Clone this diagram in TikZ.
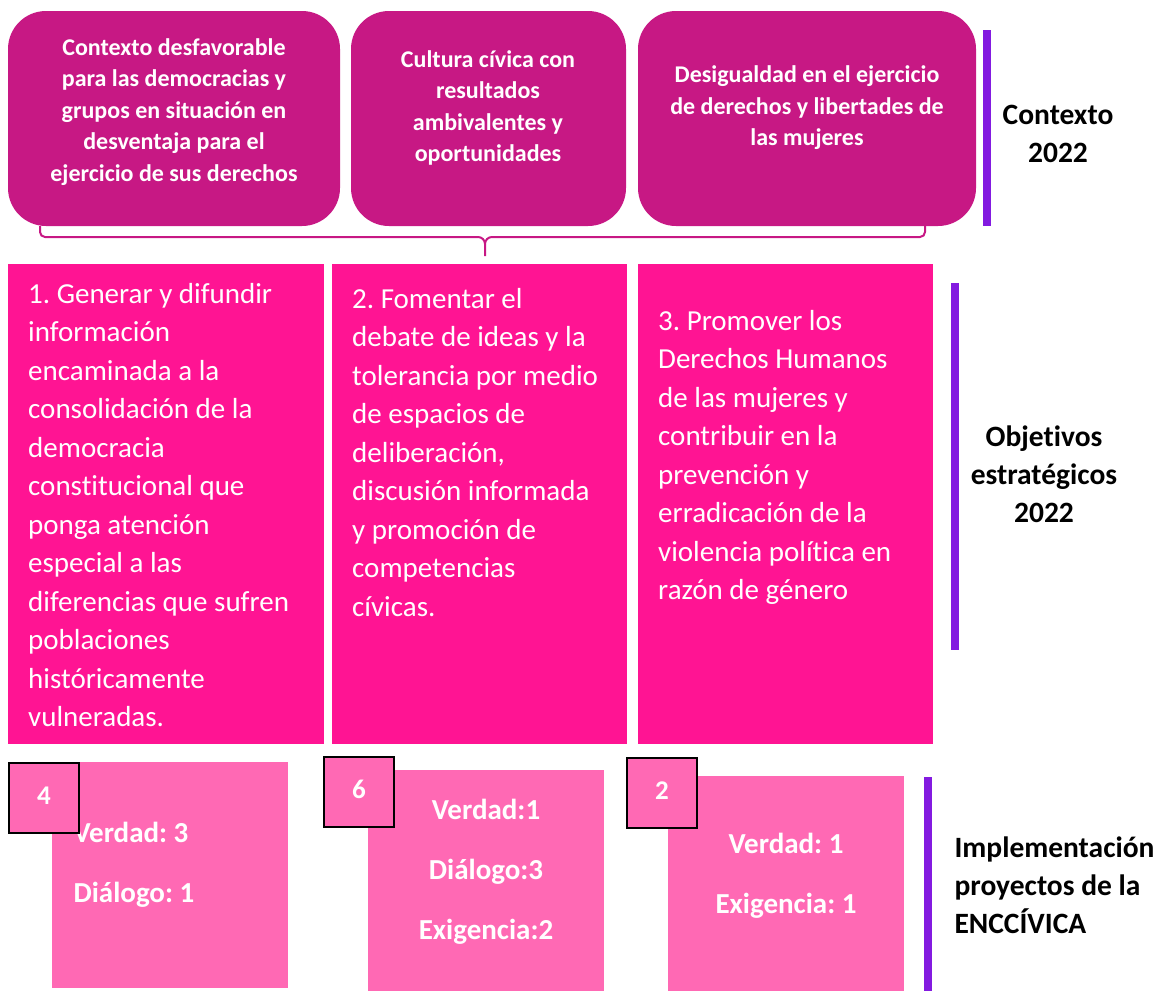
\documentclass[tikz,border=0pt]{standalone}
\usepackage{fontspec}
\setmainfont{Carlito}[Ligatures={NoCommon}]
\frenchspacing
\definecolor{ctxc}{RGB}{199,24,132}
\definecolor{objc}{RGB}{255,20,147}
\definecolor{impc}{RGB}{255,105,180}
\definecolor{barc}{RGB}{131,26,224}
\tikzset{
  ctxbox/.style={fill=ctxc, rounded corners=38pt, inner sep=0pt, outer sep=0pt, anchor=north west},
  ctxtext/.style={text=white, align=center, font={\fontsize{24}{31.5}\selectfont\bfseries}},
  objbox/.style={fill=objc, inner sep=0pt, outer sep=0pt, anchor=north west},
  objtext/.style={text=white, align=left, anchor=north west, inner sep=0pt, font={\fontsize{29}{38.5}\selectfont}},
  impbox/.style={fill=impc, inner sep=0pt, outer sep=0pt, anchor=north west},
  imptext/.style={text=white, font={\fontsize{29}{60}\selectfont\bfseries}},
  numbox/.style={fill=impc, draw=black, line width=2pt, inner sep=0pt, anchor=north west, minimum width=70pt, minimum height=70pt, text=white, font={\fontsize{27}{30}\selectfont\bfseries}},
  sidelabel/.style={text=black, font={\fontsize{29.5}{38}\selectfont\bfseries}},
  bracel/.style={draw=ctxc, line width=2pt},
  bar/.style={fill=barc}
}
\begin{document}
\begin{tikzpicture}[x=1pt,y=-1pt]
\useasboundingbox (0,0) rectangle (1155,991);
% context boxes
\node[ctxbox, minimum width=332pt, minimum height=215pt] (c1) at (8,11) {};
\node[ctxbox, minimum width=275pt, minimum height=215pt] (c2) at (351,11) {};
\node[ctxbox, minimum width=338pt, minimum height=215pt] (c3) at (638,11) {};
\node[ctxtext] (t1) at (174,112) {Contexto desfavorable\\para las democracias y\\grupos en situación en\\desventaja para el\\ejercicio de sus derechos};
\node[ctxtext] (t2) at (488,108) {Cultura cívica con\\resultados\\ambivalentes y\\oportunidades};
\node[ctxtext] (t3) at (807,108) {Desigualdad en el ejercicio\\de derechos y libertades de\\las mujeres};
% brace
\coordinate (bl) at (40,226);
\coordinate (br) at (925,226);
\coordinate (bm) at (485,256);
\draw[bracel] (bl) -- (40,232) arc[start angle=180, end angle=270, radius=5pt] -- (478,237) arc[start angle=90, end angle=0, radius=7pt] -- (bm);
\draw[bracel] (br) -- (925,232) arc[start angle=0, end angle=-90, radius=5pt] -- (492,237) arc[start angle=90, end angle=180, radius=7pt];
% bars
\fill[bar] (983,30) rectangle (991,226);
\fill[bar] (951,283) rectangle (959,650);
\fill[bar] (924,777) rectangle (932,991);
% side labels
\node[sidelabel, align=center] (l1) at (1058,134) {Contexto\\2022};
\node[sidelabel, align=center] (l2) at (1044,474) {Objetivos\\estratégicos\\2022};
\node[sidelabel, align=left, anchor=west] (l3) at (951,885) {Implementación\\proyectos de la\\ENCCÍVICA};
% objectives
\node[objbox, minimum width=316pt, minimum height=480pt] (o1) at (8,264) {};
\node[objbox, minimum width=295pt, minimum height=480pt] (o2) at (332,264) {};
\node[objbox, minimum width=295pt, minimum height=480pt] (o3) at (638,264) {};
\node[objtext] (ot1) at (28,283) {1. Generar y difundir\\información\\encaminada a la\\consolidación de la\\democracia\\constitucional que\\ponga atención\\especial a las\\diferencias que sufren\\poblaciones\\históricamente\\vulneradas.};
\node[objtext] (ot2) at (352,288) {2. Fomentar el\\debate de ideas y la\\tolerancia por medio\\de espacios de\\deliberación,\\discusión informada\\y promoción de\\competencias\\cívicas.};
\node[objtext] (ot3) at (658,310) {3. Promover los\\Derechos Humanos\\de las mujeres y\\contribuir en la\\prevención y\\erradicación de la\\violencia política en\\razón de género};
% implementation
\node[impbox, minimum width=236pt, minimum height=226pt] (i1) at (52,762) {};
\node[impbox, minimum width=236pt, minimum height=221pt] (i2) at (368,770) {};
\node[impbox, minimum width=236pt, minimum height=215pt] (i3) at (668,776) {};
\node[imptext, align=left, anchor=west] (it1) at (70,865) {Verdad: 3\\Diálogo: 1};
\node[imptext, align=center] (it2) at (486,872) {Verdad:1\\Diálogo:3\\Exigencia:2};
\node[imptext, align=center] (it3) at (786,876) {Verdad: 1\\Exigencia: 1};
\node[numbox] (n4) at (8,762) {\raisebox{5pt}{4}};
\node[numbox] (n6) at (323,756) {\raisebox{5pt}{6}};
\node[numbox] (n2) at (626,757) {\raisebox{5pt}{2}};
\end{tikzpicture}
\end{document}
